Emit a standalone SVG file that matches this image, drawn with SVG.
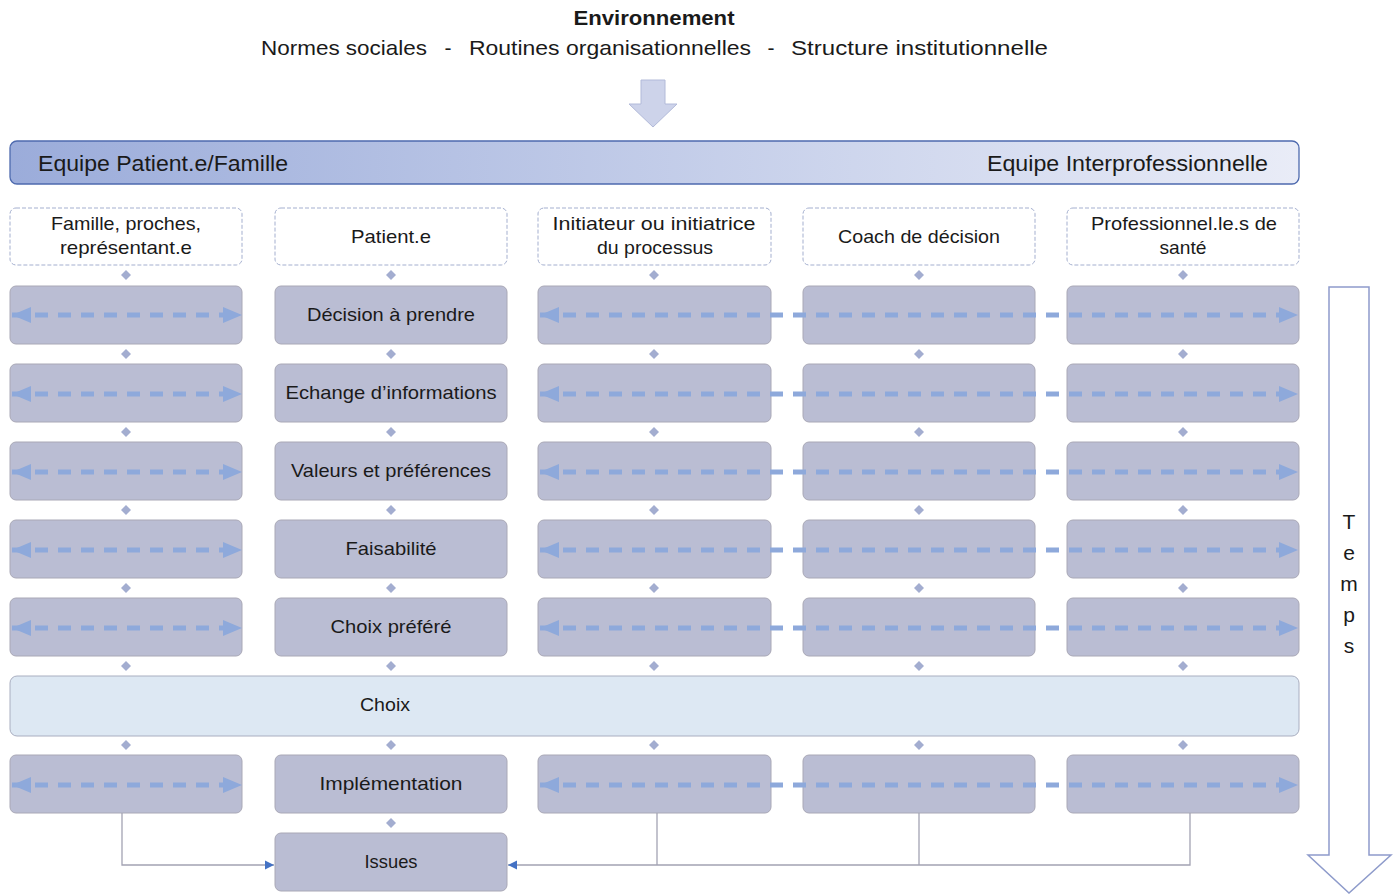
<svg xmlns="http://www.w3.org/2000/svg" width="1399" height="894" viewBox="0 0 1399 894">
<defs>
<linearGradient id="teamGrad" x1="0" y1="0" x2="1" y2="0">
<stop offset="0" stop-color="#9BACDA"/>
<stop offset="1" stop-color="#E9ECF7"/>
</linearGradient>
<marker id="ahR" markerUnits="userSpaceOnUse" markerWidth="20" markerHeight="18" refX="19" refY="9" orient="auto" viewBox="0 0 20 18">
<path d="M0,1 L19,9 L0,17 Z" fill="#8EA9DB"/>
</marker>
<marker id="ahL" markerUnits="userSpaceOnUse" markerWidth="20" markerHeight="18" refX="1" refY="9" orient="auto" viewBox="0 0 20 18">
<path d="M20,1 L1,9 L20,17 Z" fill="#8EA9DB"/>
</marker>
<marker id="ahBlue" markerUnits="userSpaceOnUse" markerWidth="10" markerHeight="10" refX="9" refY="5" orient="auto" viewBox="0 0 10 10">
<path d="M0,0.5 L9,5 L0,9.5 Z" fill="#4472C4"/>
</marker>
</defs>
<style>
text{font-family:"Liberation Sans","Noto Sans",Arial,sans-serif;fill:#1a1a1a}
.hdr{fill:#ffffff;stroke:#A4AFCF;stroke-width:1;stroke-dasharray:4 2}
.row{fill:#BABDD3;stroke:#A9A8B6;stroke-width:1}
.choix{fill:#DDE8F3;stroke:#A9AEC0;stroke-width:1}
.lbl{font-size:19px;text-anchor:middle}
.env{font-size:21px}
.dia{fill:#A3ADD0}
.dash{stroke:#8EA9DB;stroke-width:5;stroke-dasharray:13 10;fill:none}
.conn{stroke:#A3A3B3;stroke-width:1.3;fill:none}
</style>

<g id="environment">
<text x="654" y="25" font-size="21" font-weight="bold" text-anchor="middle" textLength="161" lengthAdjust="spacingAndGlyphs">Environnement</text>
<text class="env" x="261" y="55" textLength="166" lengthAdjust="spacingAndGlyphs">Normes sociales</text>
<text class="env" x="448" y="55" text-anchor="middle">-</text>
<text class="env" x="469" y="55" textLength="282" lengthAdjust="spacingAndGlyphs">Routines organisationnelles</text>
<text class="env" x="771" y="55" text-anchor="middle">-</text>
<text class="env" x="791" y="55" textLength="257" lengthAdjust="spacingAndGlyphs">Structure institutionnelle</text>
</g>

<g id="env-arrow">
<path d="M641,80 L665,80 L665,104 L677,104 L653,127 L629,104 L641,104 Z" fill="#CDD3EA" stroke="#B2BAD9" stroke-width="1"/>
</g>

<g id="team-bar">
<rect x="10" y="141" width="1289" height="43" rx="7" fill="url(#teamGrad)" stroke="#4E6AAE" stroke-width="1.3"/>
<text x="38" y="171" font-size="22" textLength="250" lengthAdjust="spacingAndGlyphs">Equipe Patient.e/Famille</text>
<text x="987" y="171" font-size="22" textLength="281" lengthAdjust="spacingAndGlyphs">Equipe Interprofessionnelle</text>
</g>

<g id="header-famille">
<rect class="hdr" x="10" y="208" width="232" height="57" rx="6"/>
<text class="lbl" x="126" y="230" textLength="150" lengthAdjust="spacingAndGlyphs">Famille, proches,</text>
<text class="lbl" x="126" y="254" textLength="132" lengthAdjust="spacingAndGlyphs">représentant.e</text>
</g>
<g id="header-patient">
<rect class="hdr" x="275" y="208" width="232" height="57" rx="6"/>
<text class="lbl" x="391" y="243" textLength="80" lengthAdjust="spacingAndGlyphs">Patient.e</text>
</g>
<g id="header-initiateur">
<rect class="hdr" x="538" y="208" width="233" height="57" rx="6"/>
<text class="lbl" x="654" y="230" textLength="203" lengthAdjust="spacingAndGlyphs">Initiateur ou initiatrice</text>
<text class="lbl" x="655" y="254" textLength="116" lengthAdjust="spacingAndGlyphs">du processus</text>
</g>
<g id="header-coach">
<rect class="hdr" x="803" y="208" width="232" height="57" rx="6"/>
<text class="lbl" x="919" y="243" textLength="162" lengthAdjust="spacingAndGlyphs">Coach de décision</text>
</g>
<g id="header-pro">
<rect class="hdr" x="1067" y="208" width="232" height="57" rx="6"/>
<text class="lbl" x="1184" y="230" textLength="186" lengthAdjust="spacingAndGlyphs">Professionnel.le.s  de</text>
<text class="lbl" x="1183" y="254" textLength="47" lengthAdjust="spacingAndGlyphs">santé</text>
</g>

<g id="row-decision">
<rect class="row" x="10" y="286" width="232" height="58" rx="6"/>
<rect class="row" x="275" y="286" width="232" height="58" rx="6"/>
<rect class="row" x="538" y="286" width="233" height="58" rx="6"/>
<rect class="row" x="803" y="286" width="232" height="58" rx="6"/>
<rect class="row" x="1067" y="286" width="232" height="58" rx="6"/>
<text class="lbl" x="391" y="321" textLength="168" lengthAdjust="spacingAndGlyphs">Décision à prendre</text>
</g>
<g id="row-echange">
<rect class="row" x="10" y="364" width="232" height="58" rx="6"/>
<rect class="row" x="275" y="364" width="232" height="58" rx="6"/>
<rect class="row" x="538" y="364" width="233" height="58" rx="6"/>
<rect class="row" x="803" y="364" width="232" height="58" rx="6"/>
<rect class="row" x="1067" y="364" width="232" height="58" rx="6"/>
<text class="lbl" x="391" y="399" textLength="211" lengthAdjust="spacingAndGlyphs">Echange d’informations</text>
</g>
<g id="row-valeurs">
<rect class="row" x="10" y="442" width="232" height="58" rx="6"/>
<rect class="row" x="275" y="442" width="232" height="58" rx="6"/>
<rect class="row" x="538" y="442" width="233" height="58" rx="6"/>
<rect class="row" x="803" y="442" width="232" height="58" rx="6"/>
<rect class="row" x="1067" y="442" width="232" height="58" rx="6"/>
<text class="lbl" x="391" y="477" textLength="200" lengthAdjust="spacingAndGlyphs">Valeurs et préférences</text>
</g>
<g id="row-faisabilite">
<rect class="row" x="10" y="520" width="232" height="58" rx="6"/>
<rect class="row" x="275" y="520" width="232" height="58" rx="6"/>
<rect class="row" x="538" y="520" width="233" height="58" rx="6"/>
<rect class="row" x="803" y="520" width="232" height="58" rx="6"/>
<rect class="row" x="1067" y="520" width="232" height="58" rx="6"/>
<text class="lbl" x="391" y="555" textLength="91" lengthAdjust="spacingAndGlyphs">Faisabilité</text>
</g>
<g id="row-choix-prefere">
<rect class="row" x="10" y="598" width="232" height="58" rx="6"/>
<rect class="row" x="275" y="598" width="232" height="58" rx="6"/>
<rect class="row" x="538" y="598" width="233" height="58" rx="6"/>
<rect class="row" x="803" y="598" width="232" height="58" rx="6"/>
<rect class="row" x="1067" y="598" width="232" height="58" rx="6"/>
<text class="lbl" x="391" y="633" textLength="121" lengthAdjust="spacingAndGlyphs">Choix préféré</text>
</g>
<g id="row-choix">
<rect class="choix" x="10" y="676" width="1289" height="60" rx="7"/>
<text class="lbl" x="385" y="711" textLength="50" lengthAdjust="spacingAndGlyphs">Choix</text>
</g>
<g id="row-implementation">
<rect class="row" x="10" y="755" width="232" height="58" rx="6"/>
<rect class="row" x="275" y="755" width="232" height="58" rx="6"/>
<rect class="row" x="538" y="755" width="233" height="58" rx="6"/>
<rect class="row" x="803" y="755" width="232" height="58" rx="6"/>
<rect class="row" x="1067" y="755" width="232" height="58" rx="6"/>
<text class="lbl" x="391" y="790" textLength="143" lengthAdjust="spacingAndGlyphs">Implémentation</text>
</g>
<g id="issues">
<rect class="row" x="275" y="833" width="232" height="58" rx="6"/>
<text class="lbl" x="391" y="868" textLength="53" lengthAdjust="spacingAndGlyphs">Issues</text>
</g>

<g id="temps">
<path d="M1329,287 L1369,287 L1369,855 L1391,855 L1349,893 L1308,855 L1329,855 Z" fill="#ffffff" stroke="#8E9BCB" stroke-width="1.5"/>
<text x="1349" y="529" font-size="21" text-anchor="middle">T</text>
<text x="1349" y="560" font-size="21" text-anchor="middle">e</text>
<text x="1349" y="591" font-size="21" text-anchor="middle">m</text>
<text x="1349" y="622" font-size="21" text-anchor="middle">p</text>
<text x="1349" y="653" font-size="21" text-anchor="middle">s</text>
</g>

<g id="connectors">
<g id="diamonds">
<polygon class="dia" points="126,270 131,275 126,280 121,275"/>
<polygon class="dia" points="391,270 396,275 391,280 386,275"/>
<polygon class="dia" points="654,270 659,275 654,280 649,275"/>
<polygon class="dia" points="919,270 924,275 919,280 914,275"/>
<polygon class="dia" points="1183,270 1188,275 1183,280 1178,275"/>

<polygon class="dia" points="126,349 131,354 126,359 121,354"/>
<polygon class="dia" points="391,349 396,354 391,359 386,354"/>
<polygon class="dia" points="654,349 659,354 654,359 649,354"/>
<polygon class="dia" points="919,349 924,354 919,359 914,354"/>
<polygon class="dia" points="1183,349 1188,354 1183,359 1178,354"/>

<polygon class="dia" points="126,427 131,432 126,437 121,432"/>
<polygon class="dia" points="391,427 396,432 391,437 386,432"/>
<polygon class="dia" points="654,427 659,432 654,437 649,432"/>
<polygon class="dia" points="919,427 924,432 919,437 914,432"/>
<polygon class="dia" points="1183,427 1188,432 1183,437 1178,432"/>

<polygon class="dia" points="126,505 131,510 126,515 121,510"/>
<polygon class="dia" points="391,505 396,510 391,515 386,510"/>
<polygon class="dia" points="654,505 659,510 654,515 649,510"/>
<polygon class="dia" points="919,505 924,510 919,515 914,510"/>
<polygon class="dia" points="1183,505 1188,510 1183,515 1178,510"/>

<polygon class="dia" points="126,583 131,588 126,593 121,588"/>
<polygon class="dia" points="391,583 396,588 391,593 386,588"/>
<polygon class="dia" points="654,583 659,588 654,593 649,588"/>
<polygon class="dia" points="919,583 924,588 919,593 914,588"/>
<polygon class="dia" points="1183,583 1188,588 1183,593 1178,588"/>

<polygon class="dia" points="126,661 131,666 126,671 121,666"/>
<polygon class="dia" points="391,661 396,666 391,671 386,666"/>
<polygon class="dia" points="654,661 659,666 654,671 649,666"/>
<polygon class="dia" points="919,661 924,666 919,671 914,666"/>
<polygon class="dia" points="1183,661 1188,666 1183,671 1178,666"/>

<polygon class="dia" points="126,740 131,745 126,750 121,745"/>
<polygon class="dia" points="391,740 396,745 391,750 386,745"/>
<polygon class="dia" points="654,740 659,745 654,750 649,745"/>
<polygon class="dia" points="919,740 924,745 919,750 914,745"/>
<polygon class="dia" points="1183,740 1188,745 1183,750 1178,745"/>

<polygon class="dia" points="391,818 396,823 391,828 386,823"/>
</g>

<g id="dashed-arrows">
<line class="dash" x1="12" y1="315" x2="242" y2="315" marker-start="url(#ahL)" marker-end="url(#ahR)"/>
<line class="dash" x1="540" y1="315" x2="1298" y2="315" marker-start="url(#ahL)" marker-end="url(#ahR)"/>
<line class="dash" x1="12" y1="394" x2="242" y2="394" marker-start="url(#ahL)" marker-end="url(#ahR)"/>
<line class="dash" x1="540" y1="394" x2="1298" y2="394" marker-start="url(#ahL)" marker-end="url(#ahR)"/>
<line class="dash" x1="12" y1="472" x2="242" y2="472" marker-start="url(#ahL)" marker-end="url(#ahR)"/>
<line class="dash" x1="540" y1="472" x2="1298" y2="472" marker-start="url(#ahL)" marker-end="url(#ahR)"/>
<line class="dash" x1="12" y1="550" x2="242" y2="550" marker-start="url(#ahL)" marker-end="url(#ahR)"/>
<line class="dash" x1="540" y1="550" x2="1298" y2="550" marker-start="url(#ahL)" marker-end="url(#ahR)"/>
<line class="dash" x1="12" y1="628" x2="242" y2="628" marker-start="url(#ahL)" marker-end="url(#ahR)"/>
<line class="dash" x1="540" y1="628" x2="1298" y2="628" marker-start="url(#ahL)" marker-end="url(#ahR)"/>
<line class="dash" x1="12" y1="785" x2="242" y2="785" marker-start="url(#ahL)" marker-end="url(#ahR)"/>
<line class="dash" x1="540" y1="785" x2="1298" y2="785" marker-start="url(#ahL)" marker-end="url(#ahR)"/>
</g>

<g id="issue-links">
<path class="conn" d="M122,813 L122,865 L274,865" marker-end="url(#ahBlue)"/>
<path class="conn" d="M1190,813 L1190,865 L508,865" marker-end="url(#ahBlue)"/>
<line class="conn" x1="657" y1="813" x2="657" y2="865"/>
<line class="conn" x1="919" y1="813" x2="919" y2="865"/>
</g>
</g>
</svg>
